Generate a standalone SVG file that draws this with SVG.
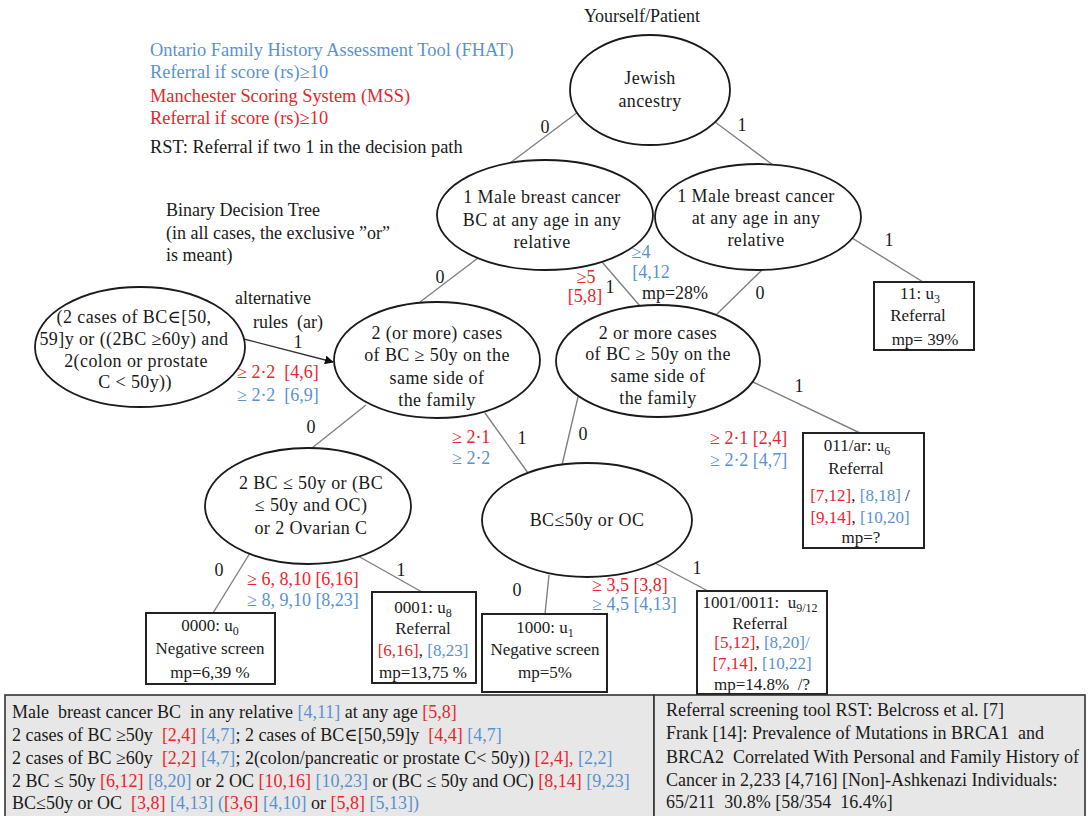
<svg xmlns="http://www.w3.org/2000/svg" width="1088" height="816" viewBox="0 0 1088 816">
  <style>
    text { font-family: "Liberation Serif", "Times New Roman", "DejaVu Serif", serif; font-size: 18px; fill: #1a1a1a; }
    .legend { font-size: 18.4px; }
    .node { fill: #ffffff; stroke: #1a1a1a; stroke-width: 1.8; }
    .box { fill: #ffffff; stroke: #222222; stroke-width: 2; }
    .edge { stroke: #808080; stroke-width: 1.4; fill: none; }
    .lbl { text-anchor: middle; }
    .leaf { text-anchor: middle; font-size: 17px; }
    .nt { text-anchor: middle; letter-spacing: 0.4px; }
    .red { fill: #e8242c; }
    .blue { fill: #5a92cf; }
    .sub { font-size: 12px; }
    .cell { fill: #e7e7e7; stroke: #333333; stroke-width: 1.6; }
  </style>
  <defs>
    <marker id="arrow" viewBox="0 0 10 10" refX="9" refY="5" markerWidth="9" markerHeight="9" orient="auto" markerUnits="userSpaceOnUse">
      <path d="M0,0 L10,5 L0,10 Z" fill="#111111"/>
    </marker>
  </defs>

  <rect width="1088" height="816" fill="#ffffff"/>

  <!-- legend -->
  <g id="legend">
    <text x="150" y="56" class="legend blue">Ontario Family History Assessment Tool (FHAT)</text>
    <text x="150" y="78" class="legend blue">Referral if score (rs)≥10</text>
    <text x="150" y="102" class="legend red">Manchester Scoring System (MSS)</text>
    <text x="150" y="124" class="legend red">Referral if score (rs)≥10</text>
    <text x="150" y="153" class="legend">RST: Referral if two 1 in the decision path</text>
    <text x="166" y="216">Binary Decision Tree</text>
    <text x="166" y="239">(in all cases, the exclusive ”or”</text>
    <text x="166" y="261">is meant)</text>
  </g>

  <!-- connectors -->
  <g id="connectors">
    <line class="edge" x1="578" y1="112" x2="510" y2="163"/>
    <line class="edge" x1="715" y1="122" x2="773" y2="165"/>
    <line class="edge" x1="478" y1="258" x2="420" y2="302"/>
    <line class="edge" x1="602" y1="262" x2="640" y2="306"/>
    <line class="edge" x1="763" y1="269" x2="717" y2="314"/>
    <line class="edge" x1="852" y1="238" x2="923" y2="282"/>
    <line x1="240" y1="338" x2="333" y2="362" stroke="#333333" stroke-width="1.4" marker-end="url(#arrow)"/>
    <line class="edge" x1="366" y1="405" x2="312" y2="448"/>
    <line class="edge" x1="485" y1="413" x2="528" y2="473"/>
    <line class="edge" x1="578" y1="397" x2="562" y2="465"/>
    <line class="edge" x1="753" y1="382" x2="860" y2="433"/>
    <line class="edge" x1="250" y1="553" x2="213" y2="613"/>
    <line class="edge" x1="358" y1="556" x2="422" y2="592"/>
    <line class="edge" x1="549" y1="575" x2="545" y2="614"/>
    <line class="edge" x1="655" y1="563" x2="708" y2="591"/>
  </g>

  <!-- edge labels -->
  <g id="edge-labels">
    <text x="545" y="133" class="lbl">0</text>
    <text x="742" y="131" class="lbl">1</text>
    <text x="440" y="283" class="lbl">0</text>
    <text x="586" y="283" class="lbl red">≥5</text>
    <text x="585" y="302" class="lbl red">[5,8]</text>
    <text x="610" y="293" class="lbl">1</text>
    <text x="641" y="258" class="lbl blue">≥4</text>
    <text x="651" y="278" class="lbl blue">[4,12</text>
    <text x="675" y="299" class="lbl">mp=28%</text>
    <text x="760" y="299" class="lbl">0</text>
    <text x="889" y="246" class="lbl">1</text>
    <text x="235" y="304">alternative</text>
    <text x="253" y="328" xml:space="preserve">rules  (ar)</text>
    <text x="298" y="348" class="lbl">1</text>
    <text x="237" y="378" class="red" xml:space="preserve">≥ 2·2  [4,6]</text>
    <text x="237" y="401" class="blue" xml:space="preserve">≥ 2·2  [6,9]</text>
    <text x="311" y="433" class="lbl">0</text>
    <text x="452" y="443" class="red">≥ 2·1</text>
    <text x="452" y="464" class="blue">≥ 2·2</text>
    <text x="522" y="444" class="lbl">1</text>
    <text x="583" y="440" class="lbl">0</text>
    <text x="799" y="392" class="lbl">1</text>
    <text x="710" y="444" class="red">≥ 2·1 [2,4]</text>
    <text x="710" y="466" class="blue">≥ 2·2 [4,7]</text>
    <text x="219" y="576" class="lbl">0</text>
    <text x="401" y="576" class="lbl">1</text>
    <text x="247" y="585" class="red">≥ 6, 8,10 [6,16]</text>
    <text x="247" y="606" class="blue">≥ 8, 9,10 [8,23]</text>
    <text x="517" y="596" class="lbl">0</text>
    <text x="697" y="574" class="lbl">1</text>
    <text x="592" y="591" class="red">≥ 3,5 [3,8]</text>
    <text x="592" y="610" class="blue">≥ 4,5 [4,13]</text>
  </g>

  <!-- root -->
  <g id="root">
    <text x="642" y="22" class="lbl">Yourself/Patient</text>
    <ellipse class="node" cx="650" cy="90" rx="80" ry="55"/>
    <text class="nt"><tspan x="650" y="84">Jewish</tspan><tspan x="650" y="107">ancestry</tspan></text>
  </g>

  <g id="male-bc-0">
    <ellipse class="node" cx="545" cy="215" rx="108" ry="55"/>
    <text class="nt"><tspan x="542" y="203">1 Male breast cancer</tspan><tspan x="542" y="226">BC at any age in any</tspan><tspan x="542" y="248">relative</tspan></text>
  </g>

  <g id="male-bc-1">
    <ellipse class="node" cx="758" cy="217" rx="103" ry="53"/>
    <text class="nt"><tspan x="756" y="202">1 Male breast cancer</tspan><tspan x="756" y="224">at any age in any</tspan><tspan x="756" y="246">relative</tspan></text>
  </g>

  <g id="alt-rules">
    <ellipse class="node" cx="140" cy="347" rx="105" ry="60"/>
    <text class="nt"><tspan x="134" y="323">(2 cases of BC∈[50,</tspan><tspan x="134" y="345">59]y or ((2BC ≥60y) and</tspan><tspan x="136" y="367">2(colon or prostate</tspan><tspan x="135" y="388">C &lt; 50y))</tspan></text>
  </g>

  <g id="bc50-side-0">
    <ellipse class="node" cx="437" cy="360" rx="103" ry="58"/>
    <text class="nt"><tspan x="437" y="339">2 (or more) cases</tspan><tspan x="437" y="361">of BC ≥ 50y on the</tspan><tspan x="437" y="384">same side of</tspan><tspan x="437" y="406">the family</tspan></text>
  </g>

  <g id="bc50-side-1">
    <ellipse class="node" cx="658" cy="361" rx="102" ry="56"/>
    <text class="nt"><tspan x="658" y="339">2 or more cases</tspan><tspan x="658" y="360">of BC ≥ 50y on the</tspan><tspan x="658" y="382">same side of</tspan><tspan x="658" y="404">the family</tspan></text>
  </g>

  <g id="two-bc-oc">
    <ellipse class="node" cx="308" cy="506" rx="103" ry="58"/>
    <text class="nt"><tspan x="311" y="489">2 BC ≤ 50y or (BC</tspan><tspan x="311" y="511">≤ 50y and OC)</tspan><tspan x="311" y="534">or 2 Ovarian C</tspan></text>
  </g>

  <g id="bc-or-oc">
    <ellipse class="node" cx="587" cy="520" rx="105" ry="57"/>
    <text x="587" y="526" class="nt">BC≤50y or OC</text>
  </g>

  <!-- leaves -->
  <g id="leaf-u3">
    <rect class="box" x="874" y="282" width="100" height="68"/>
    <text class="leaf"><tspan x="920" y="299">11: u<tspan class="sub" dy="4">3</tspan></tspan><tspan x="918" y="321">Referral</tspan><tspan x="925" y="345">mp= 39%</tspan></text>
  </g>

  <g id="leaf-u6">
    <rect class="box" x="803" y="433" width="121" height="115"/>
    <text class="leaf"><tspan x="857" y="451">011/ar: u<tspan class="sub" dy="4">6</tspan></tspan><tspan x="856" y="474">Referral</tspan><tspan x="860" y="501"><tspan class="red">[7,12]</tspan>, <tspan class="blue">[8,18]</tspan> /</tspan><tspan x="860" y="523"><tspan class="red">[9,14]</tspan>, <tspan class="blue">[10,20]</tspan></tspan><tspan x="861" y="543">mp=?</tspan></text>
  </g>

  <g id="leaf-u9-12">
    <rect class="box" x="697" y="591" width="130" height="103"/>
    <text class="leaf" xml:space="preserve"><tspan x="760" y="608">1001/0011:  u<tspan class="sub" dy="4">9/12</tspan></tspan><tspan x="760" y="629">Referral</tspan><tspan x="762" y="648"><tspan class="red">[5,12]</tspan>, <tspan class="blue">[8,20]/</tspan></tspan><tspan x="762" y="669"><tspan class="red">[7,14]</tspan>, <tspan class="blue">[10,22]</tspan></tspan><tspan x="762" y="690">mp=14.8%  /?</tspan></text>
  </g>

  <g id="leaf-u0">
    <rect class="box" x="146" y="613" width="129" height="71"/>
    <text class="leaf"><tspan x="210" y="631">0000: u<tspan class="sub" dy="4">0</tspan></tspan><tspan x="210" y="654">Negative screen</tspan><tspan x="210" y="678">mp=6,39 %</tspan></text>
  </g>

  <g id="leaf-u8">
    <rect class="box" x="372" y="592" width="104" height="91"/>
    <text class="leaf"><tspan x="423" y="613">0001: u<tspan class="sub" dy="4">8</tspan></tspan><tspan x="423" y="634">Referral</tspan><tspan x="423" y="656"><tspan class="red">[6,16]</tspan>, <tspan class="blue">[8,23]</tspan></tspan><tspan x="423" y="678">mp=13,75 %</tspan></text>
  </g>

  <g id="leaf-u1">
    <rect class="box" x="482" y="614" width="125" height="78"/>
    <text class="leaf"><tspan x="545" y="633">1000: u<tspan class="sub" dy="4">1</tspan></tspan><tspan x="545" y="655">Negative screen</tspan><tspan x="545" y="678">mp=5%</tspan></text>
  </g>

  <!-- reference table -->
  <g id="table">
    <rect class="cell" x="5" y="695" width="649" height="125"/>
    <rect class="cell" x="654" y="695" width="431" height="125"/>
    <text x="12" y="718" xml:space="preserve">Male  breast cancer BC  in any relative <tspan class="blue">[4,11]</tspan> at any age <tspan class="red">[5,8]</tspan></text>
    <text x="12" y="741" xml:space="preserve">2 cases of BC ≥50y  <tspan class="red">[2,4]</tspan> <tspan class="blue">[4,7]</tspan>; 2 cases of BC∈[50,59]y  <tspan class="red">[4,4]</tspan> <tspan class="blue">[4,7]</tspan></text>
    <text x="12" y="764" xml:space="preserve">2 cases of BC ≥60y  <tspan class="red">[2,2]</tspan> <tspan class="blue">[4,7]</tspan>; 2(colon/pancreatic or prostate C&lt; 50y)) <tspan class="red">[2,4],</tspan> <tspan class="blue">[2,2]</tspan></text>
    <text x="12" y="787" xml:space="preserve">2 BC ≤ 50y <tspan class="red">[6,12]</tspan> <tspan class="blue">[8,20]</tspan> or 2 OC <tspan class="red">[10,16]</tspan> <tspan class="blue">[10,23]</tspan> or (BC ≤ 50y and OC) <tspan class="red">[8,14]</tspan> <tspan class="blue">[9,23]</tspan></text>
    <text x="12" y="809" xml:space="preserve">BC≤50y or OC  <tspan class="red">[3,8]</tspan> <tspan class="blue">[4,13]</tspan> <tspan class="blue">(</tspan><tspan class="red">[3,6]</tspan> <tspan class="blue">[4,10]</tspan> or <tspan class="red">[5,8]</tspan> <tspan class="blue">[5,13])</tspan></text>
    <text x="666" y="716">Referral screening tool RST: Belcross et al. [7]</text>
    <text x="666" y="739" xml:space="preserve">Frank [14]: Prevalence of Mutations in BRCA1  and</text>
    <text x="666" y="763" xml:space="preserve">BRCA2  Correlated With Personal and Family History of</text>
    <text x="666" y="786">Cancer in 2,233 [4,716] [Non]-Ashkenazi Individuals:</text>
    <text x="666" y="808" xml:space="preserve">65/211  30.8% [58/354  16.4%]</text>
  </g>
</svg>
